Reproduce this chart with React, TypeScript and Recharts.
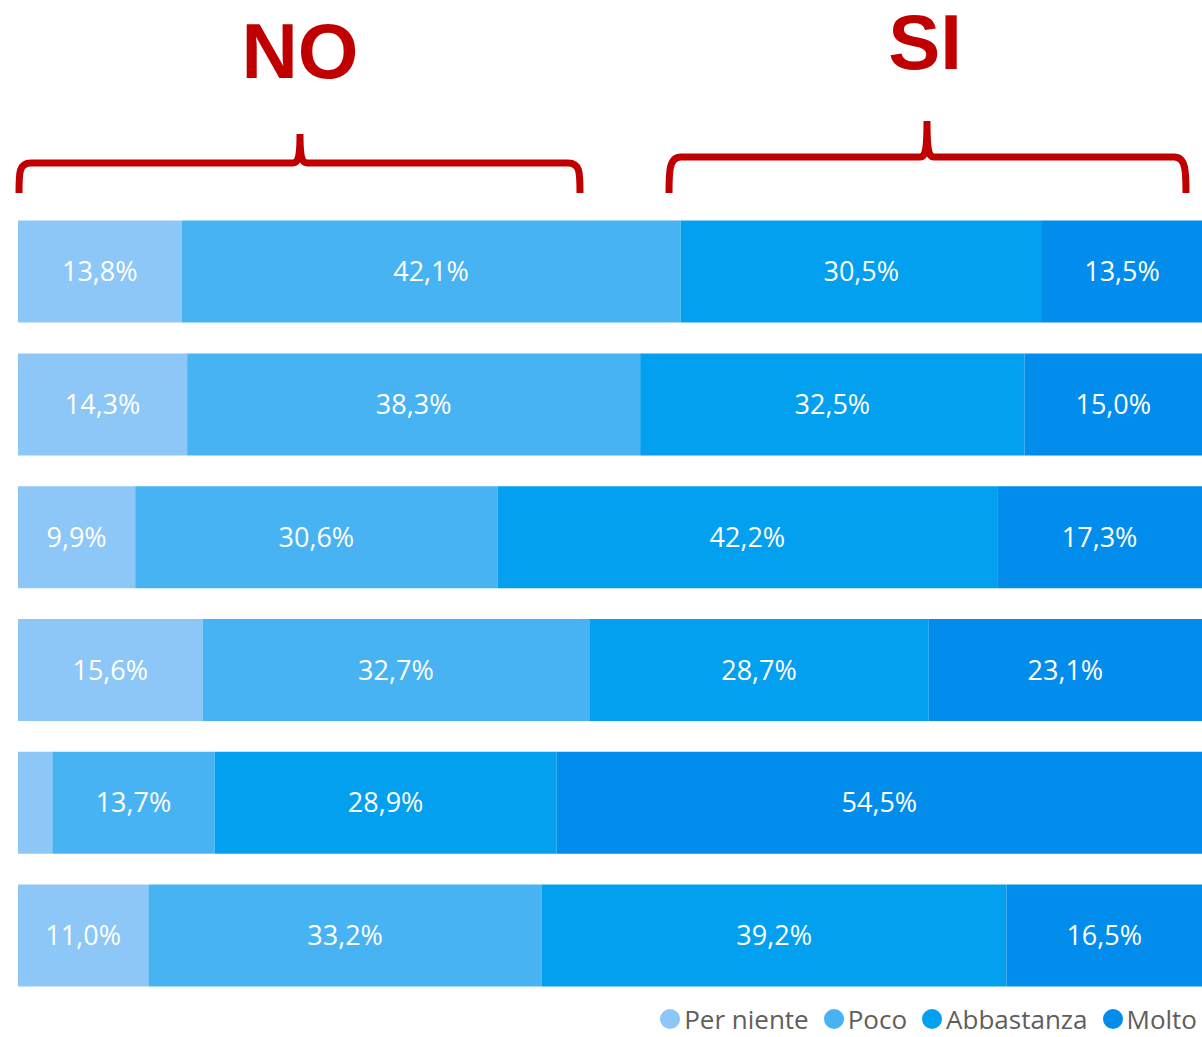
import { BarChart, Bar, XAxis, YAxis, LabelList } from 'recharts';

const rows = ['1', '2', '3', '4', '5', '6'];
const perNiente = [13.8, 14.3, 9.9, 15.6, 2.9, 11.0];
const poco = [42.1, 38.3, 30.6, 32.7, 13.7, 33.2];
const abbastanza = [30.5, 32.5, 42.2, 28.7, 28.9, 39.2];
const molto = [13.5, 15.0, 17.3, 23.1, 54.5, 16.5];

const series = [
  { key: 'perNiente', name: 'Per niente', color: '#8DC7F7' },
  { key: 'poco', name: 'Poco', color: '#48B3F3' },
  { key: 'abbastanza', name: 'Abbastanza', color: '#03A0F0' },
  { key: 'molto', name: 'Molto', color: '#028DEC' },
];

const data = rows.map((name, i) => ({
  name,
  perNiente: perNiente[i],
  poco: poco[i],
  abbastanza: abbastanza[i],
  molto: molto[i],
}));

// small slices (row 5 "Per niente") carry no label in the original
const fmt = (v: unknown) => {
  const n = Number(v);
  if (!n || n < 5) return '';
  return `${n.toFixed(1).replace('.', ',')}%`;
};

const RED = '#C00000';

const brace = (x1: number, x2: number, xm: number, yLine: number, yTip: number) =>
  `M ${x1} 193 C ${x1} 172 ${x1} ${yLine} ${x1 + 12} ${yLine} L ${xm - 7} ${yLine} C ${xm - 1} ${yLine} ${xm} ${yLine - 8} ${xm} ${yTip}` +
  ` M ${x2} 193 C ${x2} 172 ${x2} ${yLine} ${x2 - 12} ${yLine} L ${xm + 7} ${yLine} C ${xm + 1} ${yLine} ${xm} ${yLine - 8} ${xm} ${yTip}`;

const bigLabel = (text: string, cx: number, top: number) => (
  <div
    style={{
      position: 'absolute',
      left: cx - 100,
      width: 200,
      top,
      textAlign: 'center',
      color: RED,
      fontSize: 78,
      lineHeight: 1,
      fontWeight: 700,
      fontFamily: "'Liberation Sans', Arial, sans-serif",
    }}
  >
    {text}
  </div>
);

const App = () => {
  return (
    <div style={{ position: 'absolute', left: 0, top: 0, width: 1202, height: 1037, fontFamily: '"Open Sans", sans-serif' }}>
      <BarChart
        width={1202}
        height={1037}
        data={data}
        layout="vertical"
        stackOffset="expand"
        barSize={102}
        margin={{ top: 205.6, right: 0, bottom: 34.6, left: 18 }}
      >
        <XAxis type="number" hide domain={[0, 1]} />
        <YAxis type="category" dataKey="name" hide />
        {series.map((s) => (
          <Bar key={s.key} dataKey={s.key} name={s.name} stackId="a" fill={s.color} isAnimationActive={false}>
            <LabelList dataKey={s.key} position="center" fill="#FFFFFF" fontSize={27} formatter={fmt} />
          </Bar>
        ))}
      </BarChart>
      <svg width={1202} height={200} style={{ position: 'absolute', left: 0, top: 0, pointerEvents: 'none' }}>
        <path d={brace(19, 580, 300, 163, 134)} fill="none" stroke={RED} strokeWidth={7} />
        <path d={brace(669, 1186, 927, 157, 121)} fill="none" stroke={RED} strokeWidth={7} />
      </svg>
      {bigLabel('NO', 300, 12)}
      {bigLabel('SI', 925, 3)}
      <div
        style={{
          position: 'absolute',
          right: 5,
          top: 1006,
          height: 26,
          display: 'flex',
          alignItems: 'center',
          gap: 15,
          fontSize: 26,
          lineHeight: '26px',
          color: '#605E5C',
          whiteSpace: 'nowrap',
        }}
      >
        {series.map((s) => (
          <span key={s.key} style={{ display: 'flex', alignItems: 'center', gap: 4 }}>
            <span style={{ width: 20, height: 20, borderRadius: '50%', background: s.color, display: 'inline-block' }} />
            {s.name}
          </span>
        ))}
      </div>
    </div>
  );
};

export default App;
